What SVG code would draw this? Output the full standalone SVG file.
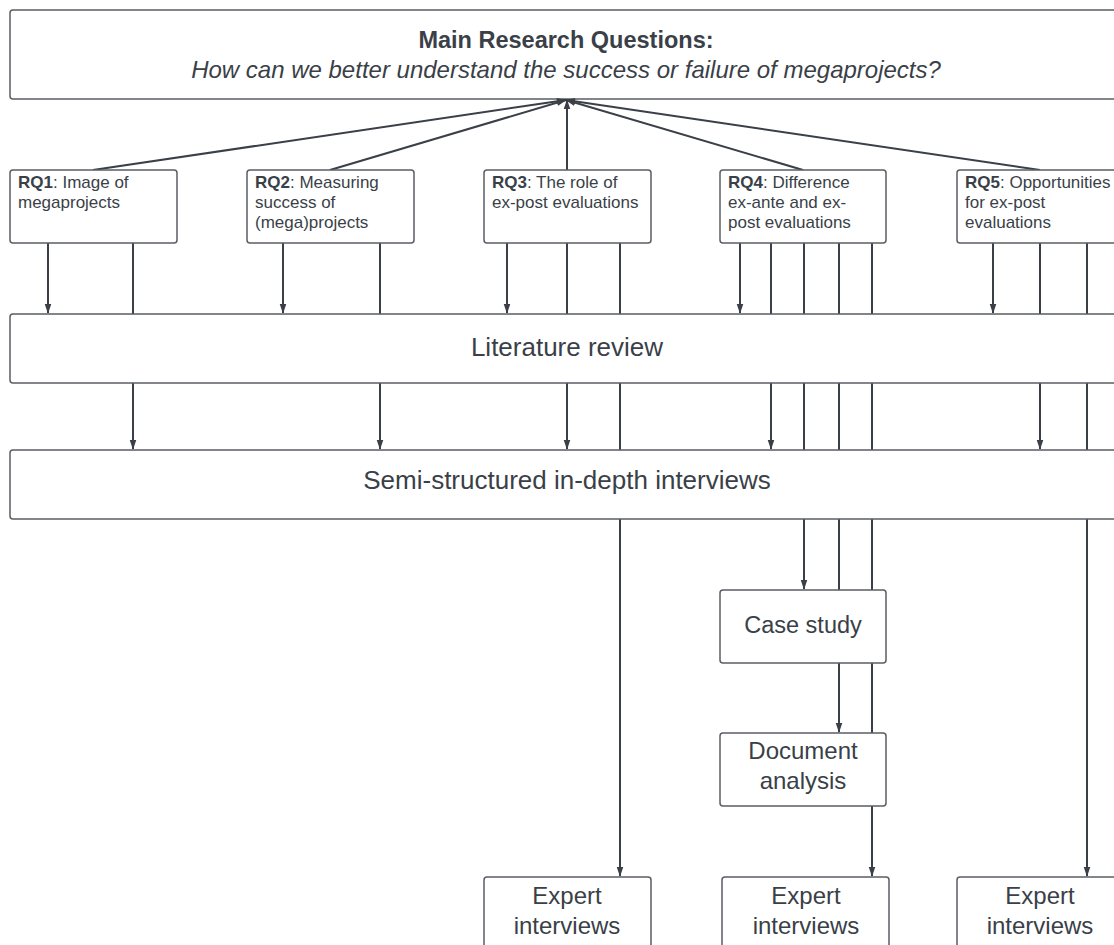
<svg xmlns="http://www.w3.org/2000/svg" width="1114" height="945" viewBox="0 0 1114 945">
<defs>
<marker id="ah" markerWidth="10" markerHeight="12" refX="11" refY="5" orient="auto" markerUnits="userSpaceOnUse" viewBox="0 0 12 10">
<path d="M0,1 L12,5 L0,9 Z" fill="#3a3f48"/>
</marker>
<style>
.box{fill:#fff;stroke:#5a5d63;stroke-width:1.5}
.t{font-family:"Liberation Sans",Arial,sans-serif;fill:#3a3f48}
.rq{font-size:17px}
.c{stroke:#3a3f48;stroke-width:2;fill:none}
.a{marker-end:url(#ah)}
</style>
</defs>
<rect width="1114" height="945" fill="#fff"/>
<g id="main">
<rect class="box" x="10" y="10" width="1120" height="89" rx="3"/>
<text class="t" x="566" y="48" text-anchor="middle" font-size="23.5" font-weight="bold">Main Research Questions:</text>
<text class="t" x="566" y="78" text-anchor="middle" font-size="24" font-style="italic">How can we better understand the success or failure of megaprojects?</text>
</g>
<g id="connectors">
<line class="c a" x1="93" y1="170" x2="566" y2="100"/>
<line class="c a" x1="330" y1="170" x2="566" y2="100"/>
<line class="c a" x1="567" y1="170" x2="567" y2="100"/>
<line class="c a" x1="803" y1="170" x2="566" y2="100"/>
<line class="c a" x1="1040" y1="170" x2="566" y2="100"/>
<line class="c a" x1="48" y1="243" x2="48" y2="313"/>
<line class="c a" x1="133" y1="243" x2="133" y2="449"/>
<line class="c a" x1="283" y1="243" x2="283" y2="313"/>
<line class="c a" x1="380" y1="243" x2="380" y2="449"/>
<line class="c a" x1="507" y1="243" x2="507" y2="313"/>
<line class="c a" x1="567" y1="243" x2="567" y2="449"/>
<line class="c a" x1="620" y1="243" x2="620" y2="876"/>
<line class="c a" x1="740" y1="243" x2="740" y2="313"/>
<line class="c a" x1="771" y1="243" x2="771" y2="449"/>
<line class="c a" x1="804" y1="243" x2="804" y2="589"/>
<line class="c a" x1="839" y1="243" x2="839" y2="732"/>
<line class="c a" x1="872" y1="243" x2="872" y2="876"/>
<line class="c a" x1="993" y1="243" x2="993" y2="313"/>
<line class="c a" x1="1040" y1="243" x2="1040" y2="449"/>
<line class="c a" x1="1087" y1="243" x2="1087" y2="876"/>
</g>
<g id="rq1">
<rect class="box" x="10" y="170" width="167" height="73" rx="3"/>
<text class="t rq" x="18" y="188"><tspan font-weight="bold">RQ1</tspan>: Image of</text>
<text class="t rq" x="18" y="208">megaprojects</text>
</g>
<g id="rq2">
<rect class="box" x="247" y="170" width="167" height="73" rx="3"/>
<text class="t rq" x="255" y="188"><tspan font-weight="bold">RQ2</tspan>: Measuring</text>
<text class="t rq" x="255" y="208">success of</text>
<text class="t rq" x="255" y="228">(mega)projects</text>
</g>
<g id="rq3">
<rect class="box" x="484" y="170" width="167" height="73" rx="3"/>
<text class="t rq" x="492" y="188"><tspan font-weight="bold">RQ3</tspan>: The role of</text>
<text class="t rq" x="492" y="208">ex-post evaluations</text>
</g>
<g id="rq4">
<rect class="box" x="720" y="170" width="166" height="73" rx="3"/>
<text class="t rq" x="728" y="188"><tspan font-weight="bold">RQ4</tspan>: Difference</text>
<text class="t rq" x="728" y="208">ex-ante and ex-</text>
<text class="t rq" x="728" y="228">post evaluations</text>
</g>
<g id="rq5">
<rect class="box" x="957" y="170" width="167" height="73" rx="3"/>
<text class="t rq" x="965" y="188"><tspan font-weight="bold">RQ5</tspan>: Opportunities</text>
<text class="t rq" x="965" y="208">for ex-post</text>
<text class="t rq" x="965" y="228">evaluations</text>
</g>
<g id="literature">
<rect class="box" x="10" y="314" width="1120" height="69" rx="3"/>
<text class="t" x="567" y="356" text-anchor="middle" font-size="26">Literature review</text>
</g>
<g id="interviews">
<rect class="box" x="10" y="450" width="1120" height="69" rx="3"/>
<text class="t" x="567" y="489" text-anchor="middle" font-size="26">Semi-structured in-depth interviews</text>
</g>
<g id="casestudy">
<rect class="box" x="720" y="590" width="166" height="73" rx="3"/>
<text class="t" x="803" y="633" text-anchor="middle" font-size="23.5">Case study</text>
</g>
<g id="document">
<rect class="box" x="720" y="733" width="166" height="73" rx="3"/>
<text class="t" x="803" y="759" text-anchor="middle" font-size="24">Document</text>
<text class="t" x="803" y="789" text-anchor="middle" font-size="24">analysis</text>
</g>
<g id="expert1">
<rect class="box" x="484" y="877" width="167" height="80" rx="3"/>
<text class="t" x="567" y="904" text-anchor="middle" font-size="24">Expert</text>
<text class="t" x="567" y="934" text-anchor="middle" font-size="24">interviews</text>
</g>
<g id="expert2">
<rect class="box" x="722" y="877" width="167" height="80" rx="3"/>
<text class="t" x="806" y="904" text-anchor="middle" font-size="24">Expert</text>
<text class="t" x="806" y="934" text-anchor="middle" font-size="24">interviews</text>
</g>
<g id="expert3">
<rect class="box" x="957" y="877" width="167" height="80" rx="3"/>
<text class="t" x="1040" y="904" text-anchor="middle" font-size="24">Expert</text>
<text class="t" x="1040" y="934" text-anchor="middle" font-size="24">interviews</text>
</g>
</svg>
